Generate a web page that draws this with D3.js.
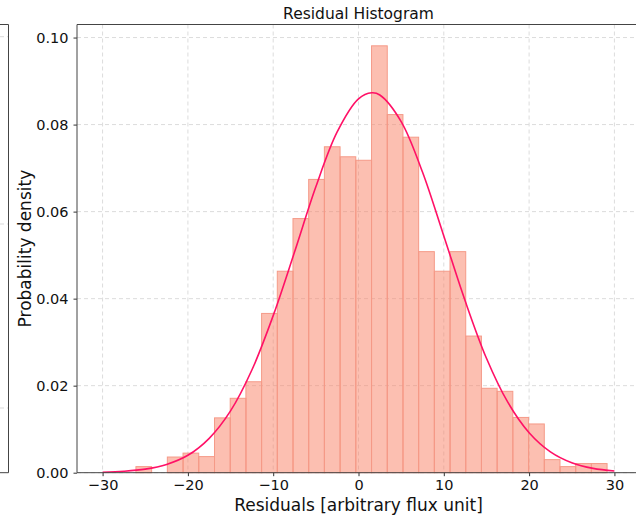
<!DOCTYPE html>
<html>
<head>
<meta charset="utf-8">
<script src="https://cdn.jsdelivr.net/npm/d3@7"></script>
<style>
  body { margin: 0; background: #fff; }
  text { font-family: "DejaVu Sans", sans-serif; fill: #111; }
</style>
</head>
<body>
<div id="chart"></div>
<script>
var
    width = 636,
    height = 516;

// histogram bin edges (31) and density per bin (30)
var binEdges = [-26.09, -24.25, -22.41, -20.57, -18.73, -16.88, -15.04, -13.20,
                -11.36, -9.52, -7.68, -5.84, -4.00, -2.16, -0.32, 1.53, 3.37,
                5.21, 7.05, 8.89, 10.73, 12.57, 14.41, 16.25, 18.09, 19.94,
                21.78, 23.62, 25.46, 27.30, 29.14];
var density = [0.0014, 0, 0.0036, 0.0045, 0.0037, 0.0126, 0.0171, 0.0209,
               0.0366, 0.0463, 0.0584, 0.0674, 0.0749, 0.0726, 0.0718, 0.0981,
               0.0823, 0.0771, 0.0508, 0.0463, 0.0508, 0.0314, 0.0194, 0.0187,
               0.0127, 0.0112, 0.0030, 0.0014, 0.0021, 0.0021];

// fitted curve
var curveX = [-30, -27.5, -25, -22.5, -20, -17.5, -15, -12.5, -10, -7.5, -5, -2.5,
              0, 1.55, 2.5, 5, 7.5, 10, 12.5, 15, 17.5, 20, 22.5, 25, 27.5, 30];
var curveY = [0.00012, 0.00033, 0.00082, 0.0019, 0.0040, 0.0079, 0.0142, 0.0236,
              0.0361, 0.0507, 0.0657, 0.0783, 0.0859, 0.0873, 0.0868, 0.0807,
              0.0691, 0.0544, 0.0395, 0.0263, 0.0162, 0.0092, 0.0048, 0.0023,
              0.0010, 0.0004];

var xTicks = [-30, -20, -10, 0, 10, 20, 30];
var yTicks = [0, 0.02, 0.04, 0.06, 0.08, 0.10];

var plot = {left: 77, top: 24.5, right: 640, bottom: 472.7};

var svg = d3.select("#chart")
        .append("svg")
        .attr("width", width)
        .attr("height", height);

var x = d3.scaleLinear().domain([-33, 33]).range([plot.left, plot.right]);
var y = d3.scaleLinear().domain([0, 0.103]).range([plot.bottom, plot.top]);

// bit of the neighbouring panel on the left
var side = svg.append("g");
[36.7, 224, 408].forEach(function(gy) {
  side.append("line")
      .attr("x1", 0).attr("x2", 8).attr("y1", gy).attr("y2", gy)
      .attr("stroke", "#d9d9d9").attr("stroke-dasharray", "4,3");
});
side.append("path")
    .attr("d", "M0," + plot.top + "H8.5V" + plot.bottom + "H0")
    .attr("fill", "none").attr("stroke", "#444").attr("stroke-width", 1);

// grid
var grid = svg.append("g");
grid.selectAll(".gx")
    .data(xTicks)
  .enter().append("line")
    .attr("x1", d => x(d)).attr("x2", d => x(d))
    .attr("y1", plot.top).attr("y2", plot.bottom)
    .attr("stroke", "#dcdcdc").attr("stroke-dasharray", "4,3");
grid.selectAll(".gy")
    .data(yTicks)
  .enter().append("line")
    .attr("x1", plot.left).attr("x2", plot.right)
    .attr("y1", d => y(d)).attr("y2", d => y(d))
    .attr("stroke", "#dcdcdc").attr("stroke-dasharray", "4,3");

// bars
svg.append("g")
  .selectAll("rect")
    .data(density)
  .enter().append("rect")
    .attr("x", (d, i) => x(binEdges[i]))
    .attr("width", (d, i) => x(binEdges[i + 1]) - x(binEdges[i]))
    .attr("y", d => y(d))
    .attr("height", d => y(0) - y(d))
    .attr("fill", "#fa8064")
    .attr("fill-opacity", 0.5)
    .attr("stroke", "#f59a88")
    .attr("stroke-width", 1)
    .attr("display", d => d > 0 ? null : "none");

// fit curve
var line = d3.line()
    .x(function(d, i) { return x(curveX[i]); })
    .y(function(d) { return y(d); })
    .curve(d3.curveCatmullRom);

svg.append("path")
    .datum(curveY)
    .attr("d", line)
    .attr("fill", "none")
    .attr("stroke", "#ff1166")
    .attr("stroke-width", 1.6);

// axes
var xAxis = svg.append("g")
    .attr("transform", "translate(0," + plot.bottom + ")")
    .call(d3.axisBottom(x).tickValues(xTicks).tickSize(3.5).tickPadding(4)
          .tickFormat(d => d < 0 ? "\u2212" + Math.abs(d) : d));
var yAxis = svg.append("g")
    .attr("transform", "translate(" + plot.left + ",0)")
    .call(d3.axisLeft(y).tickValues(yTicks).tickSize(3.5).tickPadding(5)
          .tickFormat(d3.format(".2f")));

[xAxis, yAxis].forEach(function(a) {
  a.select(".domain").remove();
  a.selectAll("line").attr("stroke", "#333");
  a.selectAll("text").attr("font-size", 14.5).attr("fill", "#111")
      .attr("font-family", "DejaVu Sans, sans-serif");
});

// spines
svg.append("path")
    .attr("d", "M" + plot.right + "," + plot.top + "H" + plot.left + "V" + plot.bottom + "H" + plot.right)
    .attr("fill", "none").attr("stroke", "#444").attr("stroke-width", 1);

// labels
svg.append("text")
    .attr("x", x(0)).attr("y", 19)
    .attr("text-anchor", "middle")
    .attr("font-size", 15.5)
    .text("Residual Histogram");

svg.append("text")
    .attr("x", x(0)).attr("y", 511)
    .attr("text-anchor", "middle")
    .attr("font-size", 17)
    .text("Residuals [arbitrary flux unit]");

svg.append("text")
    .attr("transform", "translate(31," + (plot.top + plot.bottom) / 2 + ") rotate(-90)")
    .attr("text-anchor", "middle")
    .attr("font-size", 17)
    .text("Probability density");
</script>
</body>
</html>
